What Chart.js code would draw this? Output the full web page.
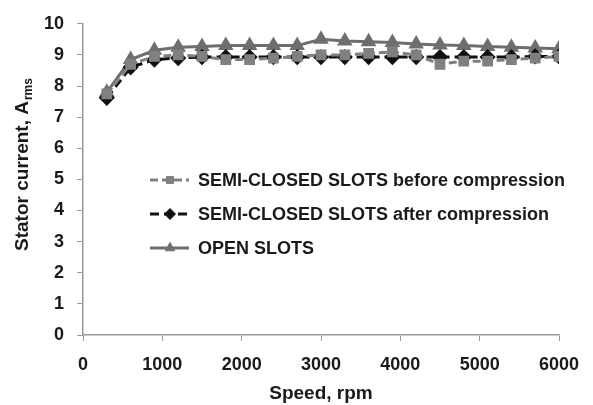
<!DOCTYPE html>
<html>
<head>
<meta charset="utf-8">
<script src="https://cdn.jsdelivr.net/npm/chart.js@4.4.1/dist/chart.umd.min.js"></script>
<style>
  html, body { margin: 0; padding: 0; background: #fff; }
  #wrap { width: 593px; height: 405px; position: relative; }
</style>
</head>
<body>
<div id="wrap"><canvas id="chart"></canvas></div>
<script>
const speed = [300, 600, 900, 1200, 1500, 1800, 2100, 2400, 2700, 3000,
  3300, 3600, 3900, 4200, 4500, 4800, 5100, 5400, 5700, 6000];

const semiBefore = [7.75, 8.7, 8.95, 9.0, 8.95, 8.85, 8.85, 8.9, 8.95, 9.0,
  9.0, 9.05, 9.1, 9.0, 8.7, 8.8, 8.8, 8.85, 8.9, 8.95];
const semiAfter = [7.62, 8.6, 8.85, 8.9, 8.93, 8.93, 8.93, 8.93, 8.93, 8.93,
  8.93, 8.93, 8.93, 8.93, 8.93, 8.93, 8.93, 8.93, 8.95, 8.95];
const openSlots = [7.8, 8.85, 9.15, 9.25, 9.27, 9.3, 9.3, 9.3, 9.3, 9.5,
  9.45, 9.42, 9.4, 9.35, 9.32, 9.3, 9.27, 9.25, 9.22, 9.2];

const labels = ['SEMI-CLOSED SLOTS before compression', 'SEMI-CLOSED SLOTS after compression', 'OPEN SLOTS'];

const FONT = '"Liberation Sans", Arial, sans-serif';
const TXT = '#1a1a1a';
const AXIS = '#9a9a9a';

const pts = (ys) => ys.map((y, i) => ({ x: speed[i], y }));

// legend inside the plot, drawn by hand
const innerLegend = {
  id: 'innerLegend',
  afterDraw(chart) {
    const ctx = chart.ctx;
    const rows = [180, 214, 248];
    chart.data.datasets.forEach((ds, i) => {
      const y = rows[i];
      ctx.save();
      ctx.strokeStyle = ds.borderColor;
      ctx.lineWidth = ds.borderWidth;
      ctx.setLineDash(ds.borderDash || []);
      ctx.beginPath();
      ctx.moveTo(150, y);
      ctx.lineTo(189, y);
      ctx.stroke();
      ctx.setLineDash([]);
      ctx.fillStyle = ds.pointBackgroundColor;
      ctx.strokeStyle = ds.pointBorderColor;
      ctx.lineWidth = 1;
      Chart.helpers.drawPoint(ctx, { pointStyle: ds.pointStyle, radius: ds.pointRadius - 0.5, rotation: 0, borderWidth: 1 }, 170, y);
      ctx.fillStyle = TXT;
      ctx.font = 'bold 18px ' + FONT;
      ctx.textBaseline = 'middle';
      ctx.fillText(ds.label, 198, y + 1);
      ctx.restore();
    });
  }
};

// y title with subscript
const yTitle = {
  id: 'yTitle',
  afterDraw(chart) {
    const ctx = chart.ctx;
    ctx.save();
    ctx.translate(23, 165);
    ctx.rotate(-Math.PI / 2);
    ctx.fillStyle = TXT;
    ctx.textBaseline = 'middle';
    const main = 'Stator current, A';
    const sub = 'rms';
    ctx.font = 'bold 19px ' + FONT;
    const w1 = ctx.measureText(main).width;
    ctx.font = 'bold 12px ' + FONT;
    const w2 = ctx.measureText(sub).width;
    const x0 = -(w1 + w2) / 2;
    ctx.font = 'bold 19px ' + FONT;
    ctx.fillText(main, x0, 0);
    ctx.font = 'bold 12px ' + FONT;
    ctx.fillText(sub, x0 + w1 + 1, 6);
    ctx.restore();
  }
};

new Chart(document.getElementById('chart'), {
  type: 'line',
  data: {
    datasets: [
      {
        label: labels[0],
        data: pts(semiBefore),
        borderColor: '#808080',
        backgroundColor: '#808080',
        borderWidth: 3,
        borderDash: [8, 4],
        pointStyle: 'rect',
        pointRadius: 5.5,
        pointBackgroundColor: '#808080',
        pointBorderColor: '#808080',
      },
      {
        label: labels[1],
        data: pts(semiAfter),
        borderColor: '#111111',
        backgroundColor: '#111111',
        borderWidth: 3,
        borderDash: [9, 5],
        pointStyle: 'rectRot',
        pointRadius: 6,
        pointBackgroundColor: '#111111',
        pointBorderColor: '#111111',
      },
      {
        label: labels[2],
        data: pts(openSlots),
        borderColor: '#6e6e6e',
        backgroundColor: '#6e6e6e',
        borderWidth: 3,
        pointStyle: 'triangle',
        pointRadius: 6,
        pointBackgroundColor: '#6e6e6e',
        pointBorderColor: '#6e6e6e',
      },
    ],
  },
  options: {
    responsive: true,
    maintainAspectRatio: false,
    animation: false,
    layout: { padding: { top: 22, right: 34, left: 0, bottom: 0 } },
    plugins: {
      legend: { display: false },
      tooltip: { enabled: false },
    },
    scales: {
      x: {
        type: 'linear',
        min: 0,
        max: 6000,
        ticks: {
          stepSize: 1000,
          callback: (v) => String(v),
          color: TXT,
          font: { family: FONT, size: 18, weight: 'bold' },
          padding: 13,
        },
        grid: { drawOnChartArea: false, drawTicks: true, tickLength: 6, color: AXIS },
        border: { color: AXIS, width: 1.5 },
        title: { display: true, text: 'Speed, rpm', color: TXT, font: { family: FONT, size: 19, weight: 'bold' }, padding: { top: 13, bottom: 0 } },
        afterFit: (s) => { s.height = 70; },
      },
      y: {
        min: 0,
        max: 10,
        ticks: { stepSize: 1, color: TXT, font: { family: FONT, size: 18, weight: 'bold' }, padding: 13 },
        grid: { drawOnChartArea: false, drawTicks: true, tickLength: 6, color: AXIS },
        border: { color: AXIS, width: 1.5 },
        afterFit: (s) => { s.width = 83; },
      },
    },
  },
  plugins: [innerLegend, yTitle],
});
</script>
</body>
</html>
